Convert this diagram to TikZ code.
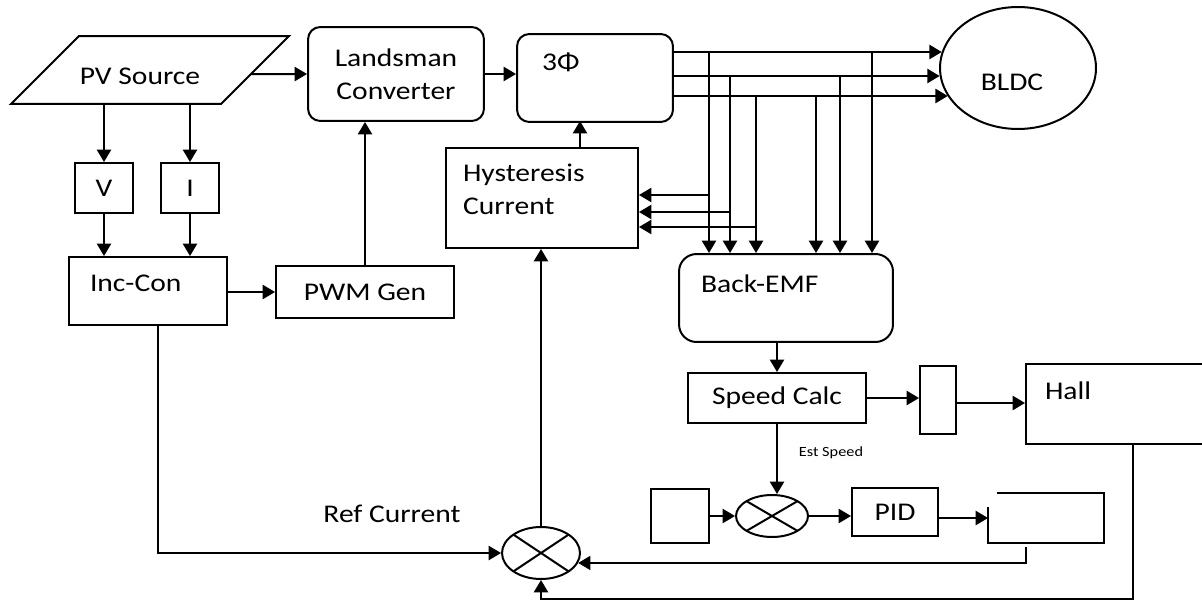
\documentclass[tikz,border=0pt]{standalone}
\usepackage{fontspec}
\setmainfont[FakeStretch=1.16]{Carlito}
\usepackage{tikz}
\usetikzlibrary{shapes,arrows.meta,positioning,calc}

\begin{document}
\begin{tikzpicture}[x=0.02cm, y=-0.02cm, line width=0.04cm,
  font=\fontsize{14.5}{19}\selectfont,
  blk/.style={draw, rectangle, inner sep=0pt},
  rblk/.style={blk, rounded corners=7pt},
  sumj/.style={draw, ellipse, inner sep=0pt,
    path picture={\draw (path picture bounding box.north west) -- (path picture bounding box.south east)
      (path picture bounding box.north east) -- (path picture bounding box.south west);}},
  tl/.style={anchor=north west, inner sep=0pt, align=left},
  arr/.style={-{Triangle[length=7pt,width=8pt]}}]
\useasboundingbox (0,0) rectangle (1202,601);

% PV source and measurements
\node[minimum width=5.52cm, minimum height=1.32cm, inner sep=0pt,
  label={[xshift=-0.2cm, yshift=-0.12cm]center:PV Source}] (pv) at (150,70) {};
\coordinate (pvtr) at (pv.north east);
\coordinate (pvbr) at ($(pv.south east)+(-68,0)$);
\draw ($(pv.north west)+(68,0)$) -- (pvtr) -- (pvbr) -- (pv.south west) -- cycle;
\node[blk, minimum width=1.16cm, minimum height=1cm] (v) at (104,188) {V};
\node[blk, minimum width=1.16cm, minimum height=1cm] (i) at (190,188) {I};
\node[blk, minimum width=3.16cm, minimum height=1.36cm,
  label={[tl, xshift=0.42cm, yshift=-0.36cm]north west:Inc-Con}] (inc) at (148,291) {};
\node[blk, minimum width=3.56cm, minimum height=1.04cm] (pwm) at (365,292) {PWM Gen};

% converter, inverter, motor
\node[rblk, minimum width=3.52cm, minimum height=1.88cm, align=center] (land) at (396,74) {Landsman\\Converter};
\node[rblk, minimum width=3.12cm, minimum height=1.76cm,
  label={[tl, xshift=0.5cm, yshift=-0.38cm]north west:3Φ}] (ph3) at (595,78) {};
\node[draw, ellipse, inner sep=0pt, minimum width=3.12cm, minimum height=2.44cm,
  label={[xshift=-0.12cm, yshift=-0.28cm]center:BLDC}] (bldc) at (1018,68) {};
\node[blk, minimum width=3.84cm, minimum height=2cm,
  label={[tl, xshift=0.34cm, yshift=-0.32cm]north west:Hysteresis\\Current}] (hyst) at (542,198) {};

% speed estimation
\node[rblk, rounded corners=10pt, minimum width=4.28cm, minimum height=1.76cm,
  label={[tl, xshift=0.44cm, yshift=-0.42cm]north west:Back-EMF}] (bemf) at (786,298) {};
\node[blk, minimum width=3.56cm, minimum height=1cm] (spd) at (777,398) {Speed Calc};
\node[blk, minimum width=0.72cm, minimum height=1.36cm] (sbox) at (938,400) {};
\node[blk, minimum width=3.68cm, minimum height=1.6cm,
  label={[tl, xshift=0.38cm, yshift=-0.36cm]north west:Hall}] (hall) at (1118,404) {};
\node[font=\fontsize{8}{9}\selectfont] (est) at (831,453) {Est Speed};

% speed loop
\node[blk, minimum width=1.16cm, minimum height=1.08cm] (wref) at (680,516) {};
\node[sumj, minimum width=1.44cm, minimum height=0.84cm] (sum2) at (772,516) {};
\node[blk, minimum width=1.72cm, minimum height=0.96cm] (pid) at (895,512) {PID};
\node[minimum width=2.28cm, minimum height=0.96cm, inner sep=0pt] (obox) at (1046,518) {};
\node[sumj, minimum width=1.56cm, minimum height=1.04cm] (sum1) at (541,553) {};
\node (refc) at (392,514) {Ref Current};

% power path
\draw[arr] ($(pvtr)!0.56!(pvbr)$) -- (land.west);
\draw[arr] (v.north |- pv.south) -- (v.north);
\draw[arr] (i.north |- pv.south) -- (i.north);
\draw[arr] (v.south) -- (v.south |- inc.north);
\draw[arr] (i.south) -- (i.south |- inc.north);
\draw[arr] (inc.east |- pwm.west) -- (pwm.west);
\draw[arr] (pwm.north) -- (pwm.north |- land.south);
\draw[arr] (land.east) -- (land.east -| ph3.west);

% three phases
\coordinate (pa) at ($(ph3.east)+(0,-26)$);
\coordinate (pb) at ($(ph3.east)+(0,-2)$);
\coordinate (pc) at ($(ph3.east)+(0,18)$);
\draw[arr] (pa) -- (pa -| bldc.168);
\draw[arr] (pb) -- (pb -| bldc.186);
\draw[arr] (pc) -- (pc -| bldc.202);
\draw[arr] (709,0 |- pa) -- (709,0 |- bemf.north);
\draw[arr] (730,0 |- pb) -- (730,0 |- bemf.north);
\draw[arr] (756,0 |- pc) -- (756,0 |- bemf.north);
\draw[arr] (816,0 |- pc) -- (816,0 |- bemf.north);
\draw[arr] (840,0 |- pb) -- (840,0 |- bemf.north);
\draw[arr] (872,0 |- pa) -- (872,0 |- bemf.north);
\draw[arr] (709,195) -- (hyst.east |- 0,195);
\draw[arr] (730,212) -- (hyst.east |- 0,212);
\draw[arr] (756,227) -- (hyst.east |- 0,227);
\draw[arr] ($(hyst.north)+(38,0)$) -- ++(0,-26);

% speed and current loops
\draw[arr] (spd.north |- bemf.south) -- (spd.north);
\draw[arr] (spd.east) -- (spd.east -| sbox.west);
\coordinate (sh) at ($(sbox.east)+(0,3)$);
\draw[arr] (sh) -- (sh -| hall.west);
\draw[arr] (spd.south) -- (spd.south |- sum2.north);
\draw[arr] (wref.east) -- (sum2.west);
\draw[arr] (sum2.east) -- (sum2.east -| pid.west);
\draw[arr] (pid.east |- obox.west) -- (obox.west);
\draw ($(obox.north west)+(9,0)$) -- (obox.north east) -- (obox.south east) -- (obox.south west) -- ($(obox.north west)+(0,14)$);
\draw[arr] ($(obox.south west)+(38,4)$) |- (sum1.-15);
\draw[arr] ($(inc.south)+(10,0)$) |- (sum1.west);
\draw[arr] (sum1.north) -- (sum1.north |- hyst.south);
\draw[arr] ($(hall.south west)+(108,0)$) -- ++(0,154) -| (sum1.south);
\end{tikzpicture}
\end{document}
